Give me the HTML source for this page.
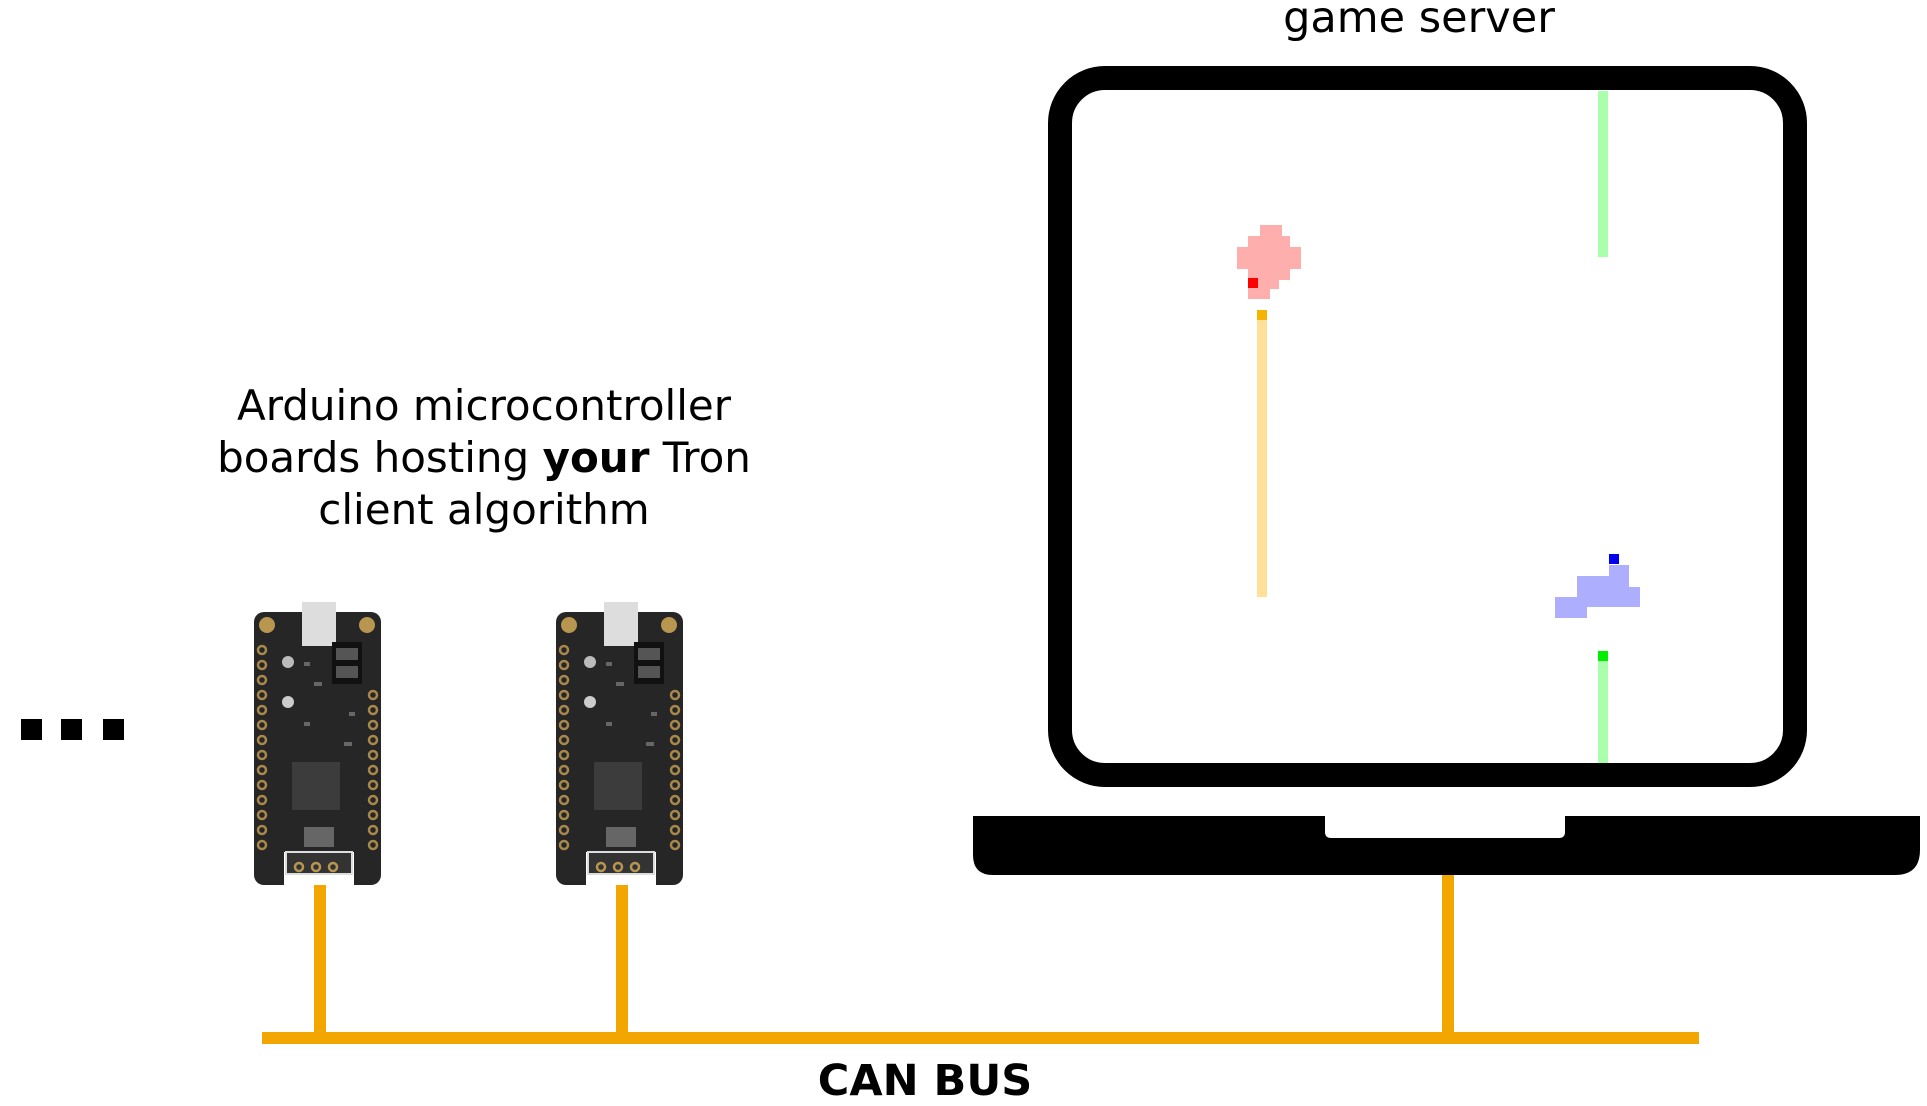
<!DOCTYPE html>
<html><head><meta charset="utf-8"><style>
html,body{margin:0;padding:0;background:#fff;}
body{width:1927px;height:1101px;position:relative;overflow:hidden;font-family:"DejaVu Sans","Liberation Sans",sans-serif;}
.t{position:absolute;color:#000;}
</style></head><body>
<div class="t" style="left:1219px;top:-7px;width:400px;text-align:center;font-size:43px;">game server</div>
<div class="t" style="left:134px;top:380px;width:700px;text-align:center;font-size:42px;line-height:52px;">Arduino microcontroller<br>boards hosting <b>your</b> Tron<br>client algorithm</div>
<div class="t" style="left:725px;top:1056px;width:400px;text-align:center;font-size:43px;font-weight:bold;">CAN BUS</div>
<svg width="1927" height="1101" style="position:absolute;left:0;top:0">
<g fill="#f4a600">
<rect x="262" y="1032" width="1437" height="12"/>
<rect x="314" y="879" width="12" height="159"/>
<rect x="616" y="879" width="12" height="159"/>
<rect x="1442" y="870" width="12" height="168"/>
</g>
<rect x="1060" y="78" width="735" height="697" rx="45" fill="#fff" stroke="#000" stroke-width="24"/>
<path d="M973 816 H1325 V832 Q1325 838 1331 838 H1559 Q1565 838 1565 832 V816 H1920 V850 Q1920 875 1895 875 H993 Q973 875 973 855 Z" fill="#000"/>
<rect x="1598" y="91" width="10" height="166" fill="#aaffaa"/>
<rect x="1598" y="661" width="10" height="102" fill="#aaffaa"/>
<rect x="1598" y="651" width="10" height="10" fill="#00ee00"/>
<rect x="1257" y="320" width="10" height="277" fill="#ffe099"/>
<rect x="1257" y="310" width="10" height="10" fill="#f4b400"/>
<g fill="#ffaeae">
<rect x="1260" y="225" width="22" height="12"/>
<rect x="1248" y="236" width="42" height="12"/>
<rect x="1237" y="247" width="64" height="22"/>
<rect x="1248" y="268" width="42" height="12"/>
<rect x="1248" y="279" width="31" height="10"/>
<rect x="1248" y="288" width="22" height="11"/>
</g>
<rect x="1248" y="278" width="10" height="10" fill="#ff0000"/>
<g fill="#aeaeff">
<rect x="1609" y="565" width="20" height="12"/>
<rect x="1577" y="576" width="52" height="12"/>
<rect x="1577" y="587" width="63" height="20"/>
<rect x="1555" y="597" width="32" height="21"/>
</g>
<rect x="1609" y="554" width="10" height="10" fill="#0000ee"/>
<g fill="#000"><rect x="21" y="719" width="21" height="21"/><rect x="61" y="719" width="21" height="21"/><rect x="103" y="719" width="21" height="21"/></g>
<defs>
<g id="bd">
<rect x="0" y="10" width="127" height="273" rx="10" fill="#262626"/>
<rect x="48" y="0" width="34" height="44" fill="#ddd"/>
<rect x="78" y="40" width="30" height="42" fill="#111"/>
<rect x="82" y="46" width="22" height="12" fill="#555"/>
<rect x="82" y="64" width="22" height="12" fill="#555"/>
<circle cx="13" cy="23" r="8" fill="#b89650"/><circle cx="113" cy="23" r="8" fill="#b89650"/>
<rect x="38" y="160" width="48" height="48" fill="#3c3c3c"/>
<circle cx="34" cy="60" r="6" fill="#bbb"/><circle cx="34" cy="100" r="6" fill="#ccc"/>
<g fill="#666"><rect x="50" y="60" width="6" height="4"/><rect x="60" y="80" width="8" height="4"/><rect x="95" y="110" width="6" height="4"/><rect x="50" y="120" width="6" height="4"/><rect x="90" y="140" width="8" height="4"/><rect x="50" y="225" width="30" height="20"/></g>
<rect x="30" y="250" width="70" height="33" fill="#fff"/>
<rect x="32" y="250" width="66" height="22" fill="#333" stroke="#ddd" stroke-width="2"/>
<g fill="none" stroke="#b89650" stroke-width="2.5">
<circle cx="45" cy="265" r="4"/><circle cx="62" cy="265" r="4"/><circle cx="79" cy="265" r="4"/>
</g>
<g fill="none" stroke="#a8884a" stroke-width="2.5">
<circle cx="8" cy="48" r="4"/><circle cx="8" cy="63" r="4"/><circle cx="8" cy="78" r="4"/><circle cx="8" cy="93" r="4"/><circle cx="8" cy="108" r="4"/><circle cx="8" cy="123" r="4"/><circle cx="8" cy="138" r="4"/><circle cx="8" cy="153" r="4"/><circle cx="8" cy="168" r="4"/><circle cx="8" cy="183" r="4"/><circle cx="8" cy="198" r="4"/><circle cx="8" cy="213" r="4"/><circle cx="8" cy="228" r="4"/><circle cx="8" cy="243" r="4"/>
<circle cx="119" cy="93" r="4"/><circle cx="119" cy="108" r="4"/><circle cx="119" cy="123" r="4"/><circle cx="119" cy="138" r="4"/><circle cx="119" cy="153" r="4"/><circle cx="119" cy="168" r="4"/><circle cx="119" cy="183" r="4"/><circle cx="119" cy="198" r="4"/><circle cx="119" cy="213" r="4"/><circle cx="119" cy="228" r="4"/><circle cx="119" cy="243" r="4"/>
</g>
</g>
</defs>
<use href="#bd" x="254" y="602"/>
<use href="#bd" x="556" y="602"/>
</svg>
</body></html>
